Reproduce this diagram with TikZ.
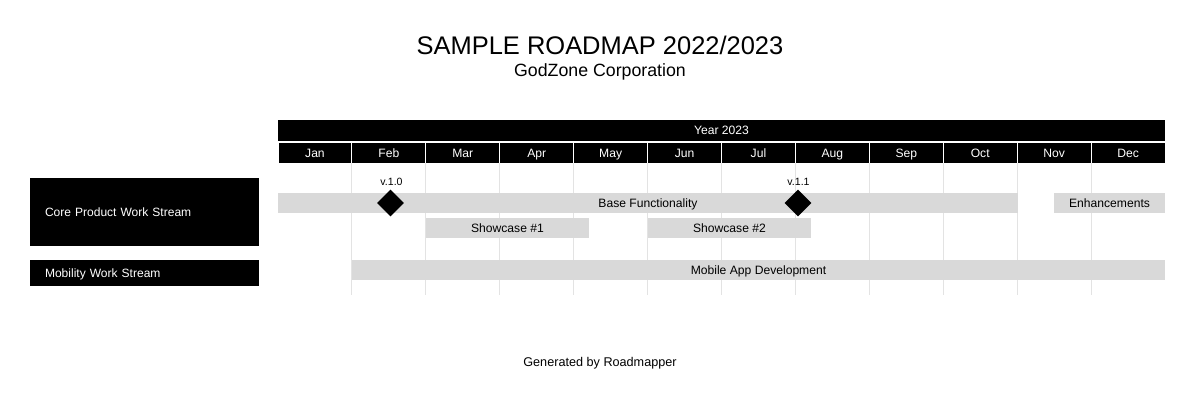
\documentclass[tikz,border=0pt]{standalone}
\usepackage{fontspec}
\setmainfont{Liberation Sans}
\usetikzlibrary{shapes.geometric}
\definecolor{barg}{HTML}{D9D9D9}
\definecolor{gridg}{HTML}{E3E3E3}
\tikzset{
  capc/.style={text height={0.716*#1}, text depth=0pt, font=\fontsize{#1}{#1}\selectfont},
  hdr/.style={fill=black, text=white, inner sep=0pt, minimum height=0.4cm, capc=6.9pt},
  bar/.style={fill=barg, text=black, inner sep=0pt, minimum height=0.4cm, capc=6.9pt},
  lane/.style={fill=black, text=white, inner ysep=0pt, inner xsep=0.3cm, minimum width=4.58cm, text width=3.98cm, align=left, capc=6.85pt},
  gridline/.style={draw=gridg, line width=0.5pt},
  ms/.style={diamond, fill=black, inner sep=0pt, minimum width=0.54cm, minimum height=0.54cm},
  mslabel/.style={text=black, inner sep=0pt, capc=6pt}
}
\begin{document}
\begin{tikzpicture}[x=0.02cm, y=-0.02cm]
\useasboundingbox[fill=white] (0,0) rectangle (1200,400);
% titles
\node[inner sep=0pt, capc=14.5pt] (title) at (600,45) {SAMPLE ROADMAP 2022/2023};
\node[inner sep=0pt, capc=10.1pt] (subtitle) at (600,70) {GodZone Corporation};
% year header
\node[hdr, minimum width=17.74cm, minimum height=0.42cm] (year) at (721.5,130.5) {Year 2023};
% months
\foreach \m [count=\i from 0] in {Jan,Feb,Mar,Apr,May,Jun,Jul,Aug,Sep,Oct,Nov,Dec} {
  \node[hdr, minimum width=1.458cm] (m\i) at ({278+73.917*(\i+0.5)},153) {\m};
}
% grid lines
\foreach \i in {1,...,11} {
  \coordinate (gt\i) at ({278+73.917*\i},163);
  \coordinate (gb\i) at ({278+73.917*\i},295);
  \draw[gridline] (gt\i) -- (gb\i);
}
% swimlanes
\node[lane, minimum height=1.36cm] (core) at (144.5,212) {Core Product Work Stream};
\node[lane, minimum height=0.52cm] (mob) at (144.5,273) {Mobility Work Stream};
% bars
\node[bar, minimum width=14.8cm] (base) at (648,203) {Base Functionality};
\node[bar, minimum width=2.22cm] (enh) at (1109.5,203) {Enhancements};
\node[bar, minimum width=3.26cm] (sc1) at (507.5,228) {Showcase \#1};
\node[bar, minimum width=3.26cm] (sc2) at (729.5,228) {Showcase \#2};
\node[bar, minimum width=16.26cm] (mad) at (758.5,270) {Mobile App Development};
% milestones
\node[ms] (v10) at (390.5,203) {};
\node[ms] (v11) at (798,203) {};
\node[mslabel] (v10l) at (391.5,182) {v.1.0};
\node[mslabel] (v11l) at (798.5,181.5) {v.1.1};
% footer
\node[inner sep=0pt, capc=7.2pt] (footer) at (600,362) {Generated by Roadmapper};
\end{tikzpicture}
\end{document}
